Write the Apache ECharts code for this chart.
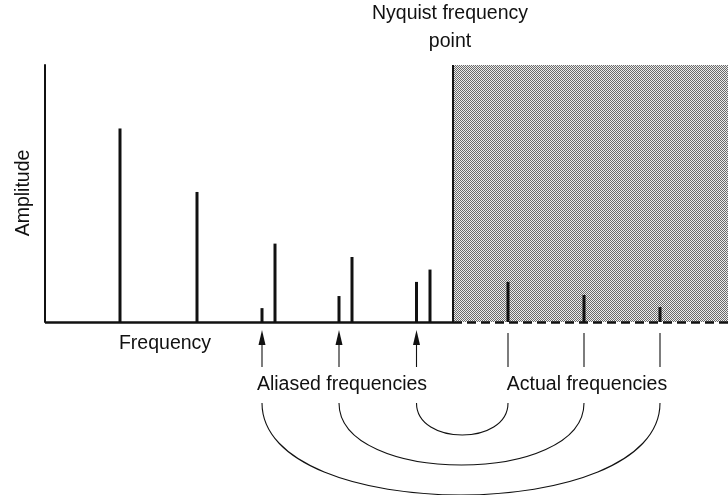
<!DOCTYPE html>
<html>
<head>
<meta charset="utf-8">
<script src="https://cdn.jsdelivr.net/npm/echarts@6/dist/echarts.min.js"></script>
<style>
  html, body { margin: 0; padding: 0; background: #fff; }
  #chart { width: 728px; height: 495px; }
</style>
</head>
<body>
<div id="chart"></div>
<script>
// spectrum lines below the Nyquist point (frequency units, amplitude in %)
const freqs = [75, 152, 217, 230, 294, 307, 371.5, 385];
const amps = [75.3, 50.6, 5.4, 30.5, 10.1, 25.3, 15.6, 20.4];
// lines above the Nyquist point
const actualFreqs = [615, 539, 463];
const actualAmps = [5.8, 10.5, 15.6];
// aliased image of each actual frequency (same order as actualFreqs)
const aliasFreqs = [217, 294, 371.5];
const nyquist = 408;
const freqMax = 683;
const ampMax = 100;

const FONT = '"Liberation Sans", Arial, Helvetica, sans-serif';

// halftone-like fill for the region above Nyquist
function makePattern () {
  const c = document.createElement('canvas');
  c.width = 4; c.height = 4;
  const ctx = c.getContext('2d');
  ctx.fillStyle = '#ececec';
  ctx.fillRect(0, 0, 4, 4);
  ctx.fillStyle = '#6a6a6a';
  for (let y = 0; y < 4; y++) {
    for (let x = 0; x < 4; x++) {
      if ((x + y) % 2 === 0) ctx.fillRect(x, y, 1, 1);
    }
  }
  return c;
}

let chart = echarts.init(document.getElementById('chart'));

const arcDepth = [92, 62, 32];

function renderLinks (params, api) {
  const i = params.dataIndex;
  const a = api.coord([api.value(0), 0]);
  const b = api.coord([api.value(1), 0]);
  const base = a[1];
  const y0 = base + 81;
  const d = arcDepth[i] * 4 / 3;
  const ls = { stroke: '#111', lineWidth: 1.1, fill: null };
  return {
    type: 'group',
    children: [
      // arrow shaft + head at aliased frequency
      { type: 'line', shape: { x1: a[0], y1: base + 45, x2: a[0], y2: base + 20 }, style: ls },
      { type: 'polygon', shape: { points: [[a[0], base + 8], [a[0] - 3.5, base + 23], [a[0] + 3.5, base + 23]] }, style: { fill: '#111' } },
      // tick under actual frequency
      { type: 'line', shape: { x1: b[0], y1: base + 11, x2: b[0], y2: base + 45 }, style: ls },
      // connecting arc
      { type: 'bezierCurve', shape: { x1: a[0], y1: y0, cpx1: a[0], cpy1: y0 + d, cpx2: b[0], cpy2: y0 + d, x2: b[0], y2: y0 }, style: ls }
    ]
  };
}

function text (t, x, y, extra) {
  return Object.assign({
    type: 'text',
    x: x, y: y,
    style: { text: t, fill: '#111', fontSize: 19.5, fontFamily: FONT, align: 'center', verticalAlign: 'middle' }
  }, extra || {});
}

chart.setOption({
  animation: false,
  backgroundColor: '#fff',
  grid: { left: 45, right: 0, top: 65, bottom: 173 },
  xAxis: { type: 'value', min: 0, max: freqMax, show: false },
  yAxis: {
    type: 'value', min: 0, max: ampMax,
    axisLine: { show: true, lineStyle: { color: '#111', width: 2 } },
    axisTick: { show: false },
    axisLabel: { show: false },
    splitLine: { show: false }
  },
  series: [
    {
      type: 'line',
      data: [],
      z: 0,
      silent: true,
      markArea: {
        silent: true,
        itemStyle: { color: { image: makePattern(), repeat: 'repeat' } },
        data: [[{ coord: [nyquist, 0] }, { coord: [freqMax, ampMax] }]]
      }
    },
    {
      name: 'spectrum',
      type: 'bar',
      barWidth: 3,
      z: 3,
      itemStyle: { color: '#111' },
      data: freqs.map((f, i) => [f, amps[i]]),
      markLine: {
        silent: true,
        symbol: 'none',
        label: { show: false },
        data: [
          [{ coord: [0, 0], lineStyle: { color: '#111', width: 2.5, type: 'solid' } }, { coord: [nyquist, 0] }],
          [{ coord: [nyquist, 0], lineStyle: { color: '#111', width: 2.5, type: [9, 5] } }, { coord: [freqMax, 0] }],
          [{ coord: [nyquist, 0], lineStyle: { color: '#111', width: 2, type: 'solid' } }, { coord: [nyquist, ampMax] }]
        ]
      }
    },
    {
      name: 'actual',
      type: 'bar',
      barWidth: 3,
      z: 3,
      barGap: '-100%',
      itemStyle: { color: '#111' },
      data: actualFreqs.map((f, i) => [f, actualAmps[i]])
    },
    {
      type: 'custom',
      clip: false,
      silent: true,
      z: 4,
      renderItem: renderLinks,
      data: aliasFreqs.map((f, i) => [f, actualFreqs[i]])
    }
  ],
  graphic: [
    text('Nyquist frequency', 450, 14),
    text('point', 450, 42),
    text('Amplitude', 24, 193, { rotation: Math.PI / 2 }),
    text('Frequency', 165, 344),
    text('Aliased frequencies', 342, 385),
    text('Actual frequencies', 587, 385)
  ]
});
</script>
</body>
</html>
